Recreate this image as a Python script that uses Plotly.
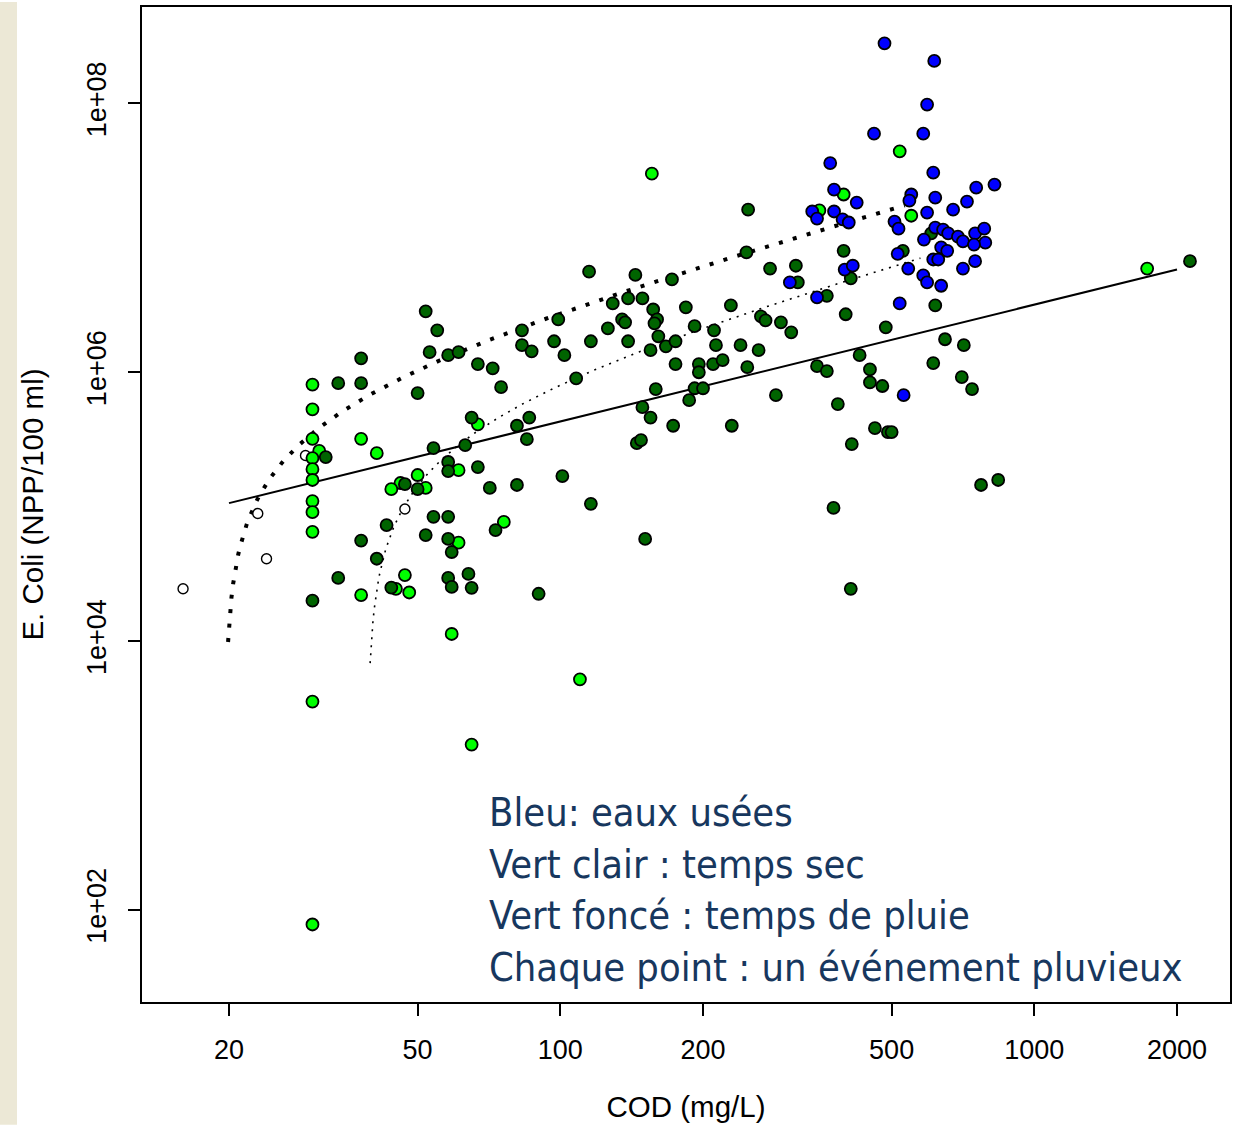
import numpy as np
import plotly.graph_objects as go

# ---- Data: COD (mg/L) vs E. coli (NPP/100 ml), one point per event ----
# Blue: wastewater (eaux usées)
ww_cod = [483, 615, 594, 459, 583, 612, 371, 378, 422, 550, 545, 618, 754, 824,
          721, 674, 340, 348, 378, 394, 406, 507, 517, 594, 618, 642, 658, 690,
          707, 750, 784, 788, 746, 585, 636, 655, 515, 612, 627, 750, 707, 542,
          583, 594, 636, 305, 398, 414, 348, 520, 530]
ww_ecoli = [2.8e8, 2.07e8, 9.8e7, 5.95e7, 5.95e7, 3.05e7, 3.6e7, 2.28e7, 1.83e7,
            2.1e7, 1.89e7, 1.99e7, 2.36e7, 2.49e7, 1.86e7, 1.62e7, 1.57e7, 1.39e7,
            1.57e7, 1.37e7, 1.3e7, 1.32e7, 1.17e7, 1.54e7, 1.19e7, 1.15e7, 1.08e7,
            1.02e7, 9.4e6, 1.08e7, 1.17e7, 9.2e6, 8.9e6, 9.7e6, 8.5e6, 8.0e6, 7.6e6,
            6.9e6, 6.9e6, 6.7e6, 5.9e6, 5.9e6, 5.25e6, 4.66e6, 4.4e6, 4.66e6, 5.8e6,
            6.2e6, 3.6e6, 3.25e6, 6.75e5]

# Light green: dry weather (temps sec)
dry_cod = [156, 520, 396, 352, 550, 1730, 30, 30, 30, 38, 31, 30, 41, 30, 30, 50,
           46, 44, 52, 30, 30, 30, 47, 45, 48, 38, 67, 61, 76, 61, 59, 30, 65, 110, 30]
dry_ecoli = [3.0e7, 4.4e7, 2.1e7, 1.6e7, 1.46e7, 5.9e6, 8.1e5, 5.3e5, 3.2e5, 3.2e5,
             2.6e5, 2.3e5, 2.5e5, 1.9e5, 1.58e5, 1.72e5, 1.5e5, 1.35e5, 1.38e5,
             1.1e5, 9.1e4, 6.5e4, 3.1e4, 2.45e4, 2.3e4, 2.2e4, 4.1e5, 1.87e5, 7.7e4,
             5.4e4, 1.13e4, 3.55e3, 1.7e3, 5.2e3, 78]

# Dark green: wet weather (temps de pluie)
wet_cod = [30, 34, 38, 41, 43, 44, 32, 34, 38, 38, 50, 47, 50, 52, 54, 58, 54, 58,
           58, 63, 67, 58, 59, 58, 59, 64, 65, 52, 55, 53, 58, 61, 67, 72, 75, 83,
           83, 87, 65, 81, 86, 85, 71, 81, 101, 116, 73, 90, 151, 97, 102, 99, 108,
           116, 115, 144, 172, 129, 139, 149, 126, 135, 137, 139, 157, 160, 158,
           161, 167, 175, 155, 184, 192, 211, 213, 210, 175, 196, 196, 159, 192,
           200, 187, 149, 155, 173, 145, 148, 249, 247, 277, 314, 317, 229, 265,
           271, 292, 307, 240, 262, 220, 248, 410, 396, 365, 400, 486, 428, 450,
           450, 478, 348, 365, 285, 385, 230, 461, 491, 500, 412, 377, 410, 528,
           606, 618, 648, 710, 612, 703, 739, 772, 839, 2130]
wet_ecoli = [2.0e4, 2.95e4, 5.6e4, 4.1e4, 7.3e4, 2.5e4, 2.34e5, 8.3e5, 8.3e5,
             1.27e6, 7.0e5, 1.47e5, 1.35e5, 6.15e4, 8.4e4, 8.4e4, 2.73e5, 2.15e5,
             1.84e5, 2.87e5, 1.97e5, 5.76e4, 4.6e4, 2.95e4, 2.53e4, 3.16e4, 2.49e4,
             2.84e6, 2.05e6, 1.41e6, 1.34e6, 1.41e6, 1.15e6, 1.07e6, 7.75e5, 2.05e6,
             1.59e6, 1.43e6, 4.6e5, 4.0e5, 4.6e5, 3.18e5, 1.38e5, 1.45e5, 1.69e5,
             1.05e5, 6.7e4, 2.25e4, 5.76e4, 1.7e6, 1.34e6, 2.47e6, 9.0e5, 1.7e6,
             5.6e6, 5.3e6, 4.9e6, 3.25e6, 3.54e6, 3.54e6, 2.12e6, 2.47e6, 2.35e6,
             1.7e6, 2.93e6, 2.47e6, 2.31e6, 1.85e6, 1.56e6, 1.7e6, 1.46e6, 3.04e6,
             2.2e6, 2.05e6, 1.59e6, 1.15e6, 1.15e6, 1.15e6, 1.0e6, 7.5e5, 7.6e5,
             7.6e5, 6.2e5, 5.5e5, 4.6e5, 4.0e5, 2.97e5, 3.13e5, 1.62e7, 7.8e6,
             5.9e6, 6.2e6, 4.66e6, 3.14e6, 2.6e6, 2.43e6, 2.35e6, 1.98e6, 1.59e6,
             1.46e6, 1.23e6, 1.09e6, 5.0e6, 8.0e6, 3.7e6, 2.7e6, 2.16e6, 1.34e6,
             1.05e6, 8.4e5, 7.9e5, 1.11e6, 1.02e6, 6.75e5, 5.8e5, 4.0e5, 3.84e5,
             3.59e5, 3.59e5, 2.92e5, 9.8e4, 2.45e4, 8.0e6, 1.08e7, 3.14e6, 1.76e6,
             1.59e6, 1.17e6, 9.2e5, 7.5e5, 1.45e5, 1.58e5, 6.7e6]

# Open circles: unclassified events
other_cod = [16, 23, 24, 29, 47]
other_ecoli = [2.45e4, 8.9e4, 4.1e4, 2.4e5, 9.6e4]

# ---- Fitted relations ----
# log-log regression (solid): log10(E) = a + b*log10(COD)
loglog_a, loglog_b = 3.896, 0.869
loglog_cod_range = (20, 2000)
# linear regressions (dotted): E = k*(COD - c)
lin1_k, lin1_c, lin1_cod_range = 33960, 19.62, (19.91, 533)
lin2_k, lin2_c, lin2_cod_range = 13180, 39.18, (39.7, 575)

x_ticks = [20, 50, 100, 200, 500, 1000, 2000]
y_ticks = [1e2, 1e4, 1e6, 1e8]
y_tick_text = ["1e+02", "1e+04", "1e+06", "1e+08"]

legend_lines = [
    "Bleu: eaux usées",
    "Vert clair : temps sec",
    "Vert foncé : temps de pluie",
    "Chaque point : un événement pluvieux",
]

fig = go.Figure()

# fitted curves
xs = np.geomspace(*loglog_cod_range, 50)
fig.add_trace(go.Scatter(x=xs, y=10 ** (loglog_a + loglog_b * np.log10(xs)),
                         mode="lines", line=dict(color="black", width=2),
                         hoverinfo="skip"))
xs1 = np.geomspace(*lin1_cod_range, 400)
fig.add_trace(go.Scatter(x=xs1, y=lin1_k * (xs1 - lin1_c), mode="lines",
                         line=dict(color="black", width=4, dash="4px,10.5px"),
                         hoverinfo="skip"))
xs2 = np.geomspace(*lin2_cod_range, 400)
fig.add_trace(go.Scatter(x=xs2, y=lin2_k * (xs2 - lin2_c), mode="lines",
                         line=dict(color="black", width=1.6, dash="2px,6px"),
                         hoverinfo="skip"))

def pts(x, y, fill, size=12, lw=1.8):
    return go.Scatter(x=x, y=y, mode="markers",
                      marker=dict(size=size, color=fill,
                                  line=dict(color="black", width=lw)))

fig.add_trace(pts(other_cod, other_ecoli, "white", size=10, lw=1.4))
fig.add_trace(pts(dry_cod, dry_ecoli, "#00FF00"))
fig.add_trace(pts(wet_cod, wet_ecoli, "#006400"))
fig.add_trace(pts(ww_cod, ww_ecoli, "#0000FF"))

W, H = 1237, 1125
L, R, T, B = 142, 7, 5, 123
pw, ph = W - L - R, H - T - B

tick_font = dict(family="Liberation Sans, Arial, sans-serif", size=27, color="black")
title_font = dict(family="Liberation Sans, Arial, sans-serif", size=29.5, color="black")

fig.update_layout(
    width=W, height=H, showlegend=False,
    margin=dict(l=L, r=R, t=T, b=B),
    paper_bgcolor="white", plot_bgcolor="white",
    xaxis=dict(type="log", range=[1.1175, 3.4128], tickvals=x_ticks,
               ticktext=[str(v) for v in x_ticks], ticks="outside", ticklen=12,
               tickwidth=2, tickcolor="black", showgrid=False, zeroline=False,
               showline=True, mirror=True, linecolor="black", linewidth=2,
               tickfont=tick_font, ticklabelstandoff=11,
               title=dict(text="COD (mg/L)", font=title_font, standoff=32)),
    yaxis=dict(type="log", range=[1.3155, 8.717], tickvals=y_ticks,
               ticktext=y_tick_text, tickangle=-90, ticks="outside", ticklen=12,
               tickwidth=2, tickcolor="black", showgrid=False, zeroline=False,
               showline=True, mirror=True, linecolor="black", linewidth=2,
               tickfont=tick_font, ticklabelstandoff=11,
               title=dict(text="E. Coli (NPP/100 ml)", font=title_font, standoff=30)),
    shapes=[dict(type="rect", xref="paper", yref="paper", layer="below",
                 x0=-L / pw, x1=(17 - L) / pw, y0=-(B / ph), y1=1 + T / ph,
                 fillcolor="#ECE8D6", line=dict(width=0))],
)

# descriptive text block inside the plot
for i, line in enumerate(legend_lines):
    yc = 812 + i * 51.5
    fig.add_annotation(
        text=line, xref="paper", yref="paper", x=(487 - L) / pw,
        y=(T + ph - yc) / ph, xanchor="left", yanchor="middle", showarrow=False,
        font=dict(family="Liberation Sans Narrow, DejaVu Sans Condensed, sans-serif",
                  size=39.5, color="#17375E"))

fig.write_html("out.html")
